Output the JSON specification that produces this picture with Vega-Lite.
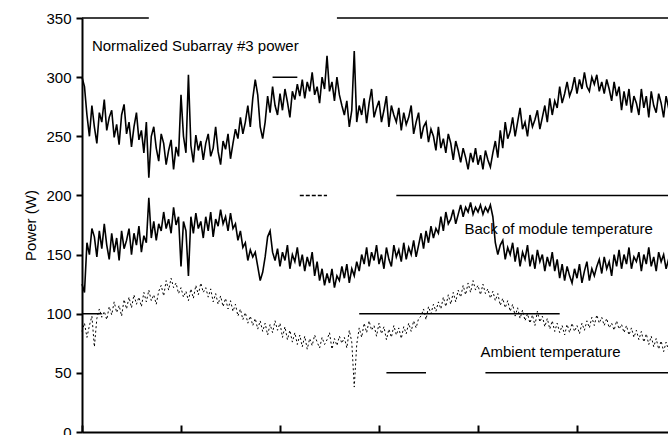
{
  "$schema": "https://vega.github.io/schema/vega-lite/v6.json",
  "autosize": "none",
  "width": 594,
  "height": 414,
  "padding": {"left": 82, "top": 18, "right": 0, "bottom": 3},
  "background": "white",
  "config": {
    "view": {"stroke": null},
    "font": "Liberation Sans",
    "axis": {"domainColor": "black", "domainWidth": 2, "tickColor": "black", "tickWidth": 2, "labelColor": "black", "titleColor": "black", "grid": false, "labelFont": "Liberation Sans", "titleFont": "Liberation Sans"}
  },
  "datasets": {
    "series": [
{"i":0,"a":300,"b":125,"c":85},{"i":1,"a":292,"b":118,"c":92},{"i":2,"a":268,"b":160,"c":80},{"i":3,"a":250,"b":150,"c":90},{"i":4,"a":276,"b":172,"c":98},{"i":5,"a":258,"b":165,"c":72},{"i":6,"a":244,"b":148,"c":96},{"i":7,"a":270,"b":170,"c":104},{"i":8,"a":262,"b":155,"c":97},{"i":9,"a":281,"b":176,"c":102},
{"i":10,"a":255,"b":158,"c":95},{"i":11,"a":266,"b":146,"c":106},{"i":12,"a":272,"b":168,"c":99},{"i":13,"a":249,"b":152,"c":110},{"i":14,"a":260,"b":164,"c":101},{"i":15,"a":243,"b":145,"c":107},{"i":16,"a":268,"b":170,"c":98},{"i":17,"a":277,"b":155,"c":112},{"i":18,"a":252,"b":162,"c":104},{"i":19,"a":262,"b":172,"c":114},
{"i":20,"a":241,"b":150,"c":105},{"i":21,"a":258,"b":168,"c":116},{"i":22,"a":270,"b":158,"c":108},{"i":23,"a":247,"b":174,"c":114},{"i":24,"a":255,"b":152,"c":106},{"i":25,"a":236,"b":166,"c":118},{"i":26,"a":262,"b":160,"c":110},{"i":27,"a":215,"b":198,"c":120},{"i":28,"a":250,"b":164,"c":111},{"i":29,"a":258,"b":178,"c":116},
{"i":30,"a":240,"b":162,"c":108},{"i":31,"a":229,"b":176,"c":119},{"i":32,"a":252,"b":170,"c":124},{"i":33,"a":244,"b":186,"c":115},{"i":34,"a":226,"b":172,"c":128},{"i":35,"a":238,"b":180,"c":120},{"i":36,"a":247,"b":168,"c":130},{"i":37,"a":222,"b":190,"c":122},{"i":38,"a":241,"b":175,"c":126},{"i":39,"a":233,"b":182,"c":117},
{"i":40,"a":285,"b":140,"c":122},{"i":41,"a":250,"b":178,"c":114},{"i":42,"a":236,"b":170,"c":119},{"i":43,"a":302,"b":132,"c":111},{"i":44,"a":242,"b":182,"c":121},{"i":45,"a":228,"b":168,"c":113},{"i":46,"a":251,"b":185,"c":124},{"i":47,"a":238,"b":172,"c":116},{"i":48,"a":246,"b":178,"c":126},{"i":49,"a":230,"b":164,"c":118},
{"i":50,"a":244,"b":182,"c":122},{"i":51,"a":252,"b":170,"c":114},{"i":52,"a":233,"b":186,"c":121},{"i":53,"a":240,"b":165,"c":110},{"i":54,"a":258,"b":180,"c":117},{"i":55,"a":237,"b":174,"c":108},{"i":56,"a":226,"b":188,"c":115},{"i":57,"a":246,"b":176,"c":106},{"i":58,"a":239,"b":182,"c":113},{"i":59,"a":252,"b":170,"c":104},
{"i":60,"a":231,"b":185,"c":111},{"i":61,"a":244,"b":172,"c":102},{"i":62,"a":256,"b":176,"c":108},{"i":63,"a":248,"b":162,"c":98},{"i":64,"a":266,"b":170,"c":104},{"i":65,"a":252,"b":156,"c":95},{"i":66,"a":262,"b":160,"c":101},{"i":67,"a":276,"b":145,"c":92},{"i":68,"a":258,"b":154,"c":98},{"i":69,"a":282,"b":148,"c":90},
{"i":70,"a":298,"b":152,"c":96},{"i":71,"a":285,"b":140,"c":87},{"i":72,"a":258,"b":128,"c":94},{"i":73,"a":248,"b":135,"c":85},{"i":74,"a":262,"b":148,"c":92},{"i":75,"a":284,"b":165,"c":82},{"i":76,"a":270,"b":170,"c":91},{"i":77,"a":292,"b":152,"c":84},{"i":78,"a":276,"b":145,"c":94},{"i":79,"a":268,"b":155,"c":86},
{"i":80,"a":286,"b":140,"c":92},{"i":81,"a":272,"b":152,"c":80},{"i":82,"a":290,"b":145,"c":89},{"i":83,"a":279,"b":158,"c":78},{"i":84,"a":266,"b":138,"c":86},{"i":85,"a":288,"b":150,"c":76},{"i":86,"a":281,"b":144,"c":84},{"i":87,"a":294,"b":156,"c":74},{"i":88,"a":284,"b":140,"c":82},{"i":89,"a":298,"b":150,"c":72},
{"i":90,"a":282,"b":136,"c":81},{"i":91,"a":296,"b":148,"c":70},{"i":92,"a":288,"b":140,"c":79},{"i":93,"a":304,"b":152,"c":73},{"i":94,"a":285,"b":132,"c":82},{"i":95,"a":292,"b":144,"c":76},{"i":96,"a":278,"b":128,"c":71},{"i":97,"a":300,"b":138,"c":80},{"i":98,"a":290,"b":124,"c":74},{"i":99,"a":318,"b":134,"c":78},
{"i":100,"a":288,"b":126,"c":84},{"i":101,"a":296,"b":138,"c":70},{"i":102,"a":280,"b":122,"c":79},{"i":103,"a":300,"b":132,"c":73},{"i":104,"a":285,"b":128,"c":81},{"i":105,"a":276,"b":140,"c":75},{"i":106,"a":268,"b":130,"c":80},{"i":107,"a":280,"b":142,"c":71},{"i":108,"a":258,"b":126,"c":86},{"i":109,"a":272,"b":138,"c":76},
{"i":110,"a":322,"b":132,"c":38},{"i":111,"a":262,"b":144,"c":74},{"i":112,"a":276,"b":136,"c":88},{"i":113,"a":268,"b":150,"c":80},{"i":114,"a":282,"b":142,"c":92},{"i":115,"a":261,"b":156,"c":84},{"i":116,"a":278,"b":140,"c":94},{"i":117,"a":290,"b":152,"c":86},{"i":118,"a":266,"b":145,"c":90},{"i":119,"a":274,"b":158,"c":81},
{"i":120,"a":280,"b":142,"c":92},{"i":121,"a":262,"b":150,"c":83},{"i":122,"a":272,"b":138,"c":89},{"i":123,"a":284,"b":156,"c":78},{"i":124,"a":258,"b":146,"c":87},{"i":125,"a":276,"b":140,"c":80},{"i":126,"a":268,"b":158,"c":90},{"i":127,"a":262,"b":148,"c":82},{"i":128,"a":274,"b":154,"c":88},{"i":129,"a":255,"b":144,"c":79},
{"i":130,"a":270,"b":160,"c":89},{"i":131,"a":260,"b":146,"c":83},{"i":132,"a":266,"b":156,"c":92},{"i":133,"a":276,"b":150,"c":85},{"i":134,"a":252,"b":162,"c":94},{"i":135,"a":262,"b":148,"c":88},{"i":136,"a":270,"b":158,"c":96},{"i":137,"a":248,"b":168,"c":98},{"i":138,"a":258,"b":155,"c":104},{"i":139,"a":262,"b":170,"c":95},
{"i":140,"a":245,"b":160,"c":106},{"i":141,"a":256,"b":174,"c":100},{"i":142,"a":250,"b":164,"c":108},{"i":143,"a":238,"b":172,"c":102},{"i":144,"a":258,"b":168,"c":110},{"i":145,"a":240,"b":182,"c":104},{"i":146,"a":248,"b":170,"c":114},{"i":147,"a":236,"b":186,"c":106},{"i":148,"a":252,"b":176,"c":116},{"i":149,"a":244,"b":180,"c":108},
{"i":150,"a":230,"b":188,"c":118},{"i":151,"a":246,"b":176,"c":110},{"i":152,"a":238,"b":184,"c":120},{"i":153,"a":228,"b":192,"c":114},{"i":154,"a":240,"b":182,"c":124},{"i":155,"a":232,"b":190,"c":116},{"i":156,"a":222,"b":186,"c":126},{"i":157,"a":236,"b":194,"c":118},{"i":158,"a":228,"b":184,"c":128},{"i":159,"a":240,"b":190,"c":120},
{"i":160,"a":226,"b":186,"c":124},{"i":161,"a":234,"b":192,"c":116},{"i":162,"a":222,"b":184,"c":125},{"i":163,"a":238,"b":190,"c":117},{"i":164,"a":230,"b":186,"c":121},{"i":165,"a":224,"b":192,"c":113},{"i":166,"a":236,"b":182,"c":119},{"i":167,"a":246,"b":160,"c":111},{"i":168,"a":232,"b":150,"c":117},{"i":169,"a":255,"b":158,"c":107},
{"i":170,"a":240,"b":162,"c":113},{"i":171,"a":262,"b":146,"c":105},{"i":172,"a":248,"b":156,"c":111},{"i":173,"a":254,"b":150,"c":102},{"i":174,"a":266,"b":160,"c":108},{"i":175,"a":250,"b":144,"c":98},{"i":176,"a":262,"b":156,"c":105},{"i":177,"a":274,"b":140,"c":96},{"i":178,"a":256,"b":152,"c":103},{"i":179,"a":262,"b":146,"c":94},
{"i":180,"a":250,"b":158,"c":100},{"i":181,"a":268,"b":140,"c":92},{"i":182,"a":258,"b":150,"c":99},{"i":183,"a":264,"b":138,"c":90},{"i":184,"a":272,"b":154,"c":102},{"i":185,"a":256,"b":144,"c":93},{"i":186,"a":266,"b":150,"c":98},{"i":187,"a":276,"b":136,"c":89},{"i":188,"a":262,"b":148,"c":96},{"i":189,"a":282,"b":140,"c":87},
{"i":190,"a":268,"b":152,"c":94},{"i":191,"a":280,"b":136,"c":85},{"i":192,"a":274,"b":146,"c":92},{"i":193,"a":292,"b":130,"c":84},{"i":194,"a":278,"b":142,"c":90},{"i":195,"a":286,"b":128,"c":82},{"i":196,"a":296,"b":140,"c":91},{"i":197,"a":284,"b":132,"c":84},{"i":198,"a":290,"b":126,"c":92},{"i":199,"a":300,"b":138,"c":85},
{"i":200,"a":286,"b":130,"c":90},{"i":201,"a":298,"b":142,"c":83},{"i":202,"a":290,"b":126,"c":92},{"i":203,"a":304,"b":136,"c":86},{"i":204,"a":292,"b":144,"c":94},{"i":205,"a":288,"b":128,"c":88},{"i":206,"a":300,"b":138,"c":97},{"i":207,"a":294,"b":132,"c":90},{"i":208,"a":302,"b":140,"c":99},{"i":209,"a":288,"b":146,"c":92},
{"i":210,"a":296,"b":134,"c":97},{"i":211,"a":286,"b":148,"c":90},{"i":212,"a":298,"b":138,"c":96},{"i":213,"a":290,"b":144,"c":88},{"i":214,"a":280,"b":132,"c":92},{"i":215,"a":296,"b":150,"c":86},{"i":216,"a":284,"b":140,"c":94},{"i":217,"a":292,"b":154,"c":87},{"i":218,"a":272,"b":138,"c":91},{"i":219,"a":288,"b":150,"c":84},
{"i":220,"a":276,"b":142,"c":90},{"i":221,"a":290,"b":156,"c":82},{"i":222,"a":270,"b":138,"c":88},{"i":223,"a":284,"b":148,"c":80},{"i":224,"a":278,"b":144,"c":86},{"i":225,"a":268,"b":152,"c":78},{"i":226,"a":290,"b":136,"c":85},{"i":227,"a":274,"b":150,"c":76},{"i":228,"a":284,"b":142,"c":83},{"i":229,"a":266,"b":156,"c":74},
{"i":230,"a":288,"b":140,"c":81},{"i":231,"a":276,"b":148,"c":72},{"i":232,"a":270,"b":136,"c":79},{"i":233,"a":286,"b":152,"c":70},{"i":234,"a":278,"b":144,"c":77},{"i":235,"a":266,"b":150,"c":68},{"i":236,"a":284,"b":138,"c":76},{"i":237,"a":274,"b":146,"c":69},{"i":238,"a":280,"b":142,"c":74}
    ],
    "grid": [
      {"v":350,"i0":0,"i1":27,"kind":"solid"},
      {"v":350,"i0":103,"i1":240,"kind":"solid"},
      {"v":300,"i0":77,"i1":87,"kind":"solid"},
      {"v":200,"i0":88,"i1":99,"kind":"dashed"},
      {"v":200,"i0":127,"i1":240,"kind":"solid"},
      {"v":100,"i0":0,"i1":8,"kind":"solid"},
      {"v":100,"i0":112,"i1":193,"kind":"solid"},
      {"v":50,"i0":123,"i1":139,"kind":"solid"},
      {"v":50,"i0":163,"i1":240,"kind":"solid"}
    ],
    "labels": [
      {"i":4,"v":326,"text":"Normalized Subarray #3 power"},
      {"i":154.5,"v":172,"text":"Back of module temperature"},
      {"i":161,"v":67.5,"text":"Ambient temperature"}
    ]
  },
  "layer": [
    {
      "data": {"name": "grid"},
      "mark": {"type": "rule", "color": "black", "strokeWidth": 1.5},
      "encoding": {
        "y": {"field": "v", "type": "quantitative", "scale": {"domain": [0, 350]}},
        "x": {"field": "i0", "type": "quantitative", "scale": {"domain": [0, 240], "nice": false}},
        "x2": {"field": "i1"},
        "strokeDash": {"field": "kind", "type": "nominal", "scale": {"domain": ["solid", "dashed"], "range": [[1, 0], [4, 2]]}, "legend": null}
      }
    },
    {
      "data": {"name": "series"},
      "mark": {"type": "line", "color": "black", "strokeWidth": 1.6, "interpolate": "linear"},
      "encoding": {
        "x": {"field": "i", "type": "quantitative", "scale": {"domain": [0, 240], "nice": false},
          "axis": {"values": [0, 40, 80, 120, 160, 200, 240], "labels": false, "tickSize": -7, "title": null}},
        "y": {"field": "a", "type": "quantitative", "scale": {"domain": [0, 350]},
          "axis": {"values": [0, 50, 100, 150, 200, 250, 300, 350], "tickSize": 6, "labelFontSize": 15, "labelPadding": 5, "title": "Power (W)", "titleFontSize": 15, "titleFontWeight": "normal", "titlePadding": 7}}
      }
    },
    {
      "data": {"name": "series"},
      "mark": {"type": "line", "color": "black", "strokeWidth": 1.6},
      "encoding": {
        "x": {"field": "i", "type": "quantitative"},
        "y": {"field": "b", "type": "quantitative"}
      }
    },
    {
      "data": {"name": "series"},
      "mark": {"type": "line", "color": "black", "strokeWidth": 1, "strokeDash": [2, 2.5]},
      "encoding": {
        "x": {"field": "i", "type": "quantitative"},
        "y": {"field": "c", "type": "quantitative"}
      }
    },
    {
      "data": {"name": "labels"},
      "mark": {"type": "text", "align": "left", "baseline": "middle", "fontSize": 15, "font": "Liberation Sans", "color": "black"},
      "encoding": {
        "x": {"field": "i", "type": "quantitative"},
        "y": {"field": "v", "type": "quantitative"},
        "text": {"field": "text"}
      }
    }
  ]
}
